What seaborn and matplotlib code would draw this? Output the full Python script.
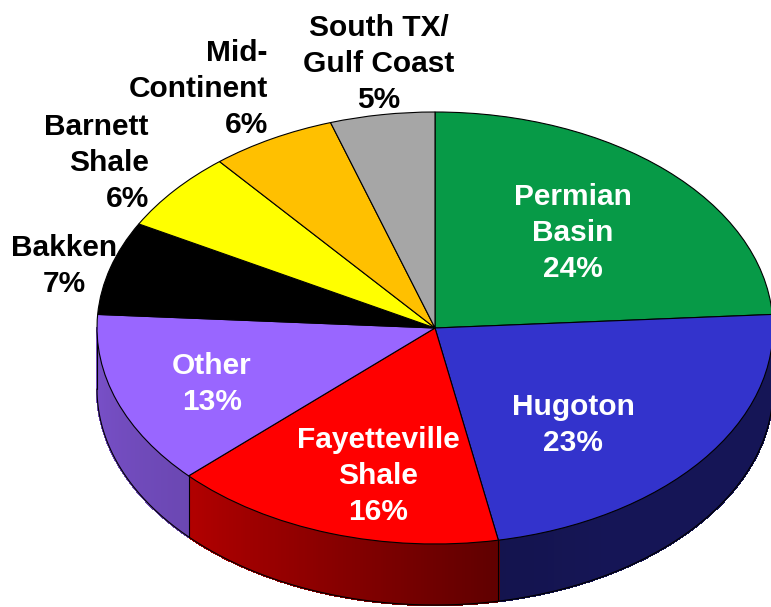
import numpy as np
import matplotlib
matplotlib.use("Agg")
import matplotlib.pyplot as plt
import seaborn as sns
from matplotlib.patches import Polygon

# ---- data ----
categories = ["Permian\nBasin", "Hugoton", "Fayetteville\nShale", "Other",
              "Bakken", "Barnett\nShale", "Mid-\nContinent", "South TX/\nGulf Coast"]
shares = [24, 23, 16, 13, 7, 6, 6, 5]
colors_hex = ["#079a47", "#3333cc", "#ff0000", "#9966ff",
              "#000000", "#ffff00", "#ffc000", "#a6a6a6"]
text_colors = ["white", "white", "white", "white", "black", "black", "black", "black"]

# ---- style ----
sns.set_theme(style="white")
plt.rcParams['font.family'] = ['Liberation Sans', 'DejaVu Sans']

W, H = 771, 607
fig = plt.figure(figsize=(W / 100, H / 100), dpi=100)
ax = fig.add_axes([0, 0, 1, 1])
palette = sns.color_palette(colors_hex)

# ellipse geometry (pixels) -> data coordinates
cx, cy, rx, ry = 435, 328, 338, 216
depth = 61 / ry

fracs = np.array(shares, dtype=float) / sum(shares)
ends = 90 - 360 * np.cumsum(fracs)
starts = ends + 360 * fracs


def shade(theta):
    return np.interp(theta, [-180, -137, -80, -60, 0], [0.80, 0.70, 0.38, 0.42, 0.42])


# side walls
for i in range(len(shares)):
    lo = max(ends[i], -180.0)
    hi = min(starts[i], 0.0)
    if hi <= lo:
        continue
    ts = np.linspace(lo, hi, int((hi - lo) / 0.5) + 2)
    base = np.array(palette[i])
    for a, b in zip(ts[:-1], ts[1:]):
        col = tuple(np.clip(base * shade((a + b) / 2), 0, 1))
        ra, rb = np.radians([a, b])
        poly = [(np.cos(ra), np.sin(ra)), (np.cos(rb), np.sin(rb)),
                (np.cos(rb), np.sin(rb) - depth), (np.cos(ra), np.sin(ra) - depth)]
        ax.add_patch(Polygon(poly, closed=True, facecolor=col, edgecolor=col,
                             linewidth=1.0, antialiased=False, zorder=1))
    rl = np.radians(lo)
    ax.plot([np.cos(rl)] * 2, [np.sin(rl), np.sin(rl) - depth],
            color="black", lw=0.8, zorder=1.5)

arc = np.radians(np.linspace(-180, 0, 400))
ax.plot(np.cos(arc), np.sin(arc) - depth, color="black", lw=0.8, zorder=1.5)

# top face
wedges, _ = ax.pie(shares, colors=palette, startangle=90, counterclock=False,
                   radius=1, wedgeprops=dict(edgecolor="black", linewidth=0.8, zorder=3))
ax.set_aspect("auto")
ax.set_xlim(-cx / rx, (W - cx) / rx)
ax.set_ylim((cy - H) / ry, cy / ry)
ax.axis("off")

# labels: (x pixel, last-line baseline pixel, alignment)
label_pos = [(573, 277, "center"), (573, 451, "center"), (378, 520, "center"),
             (212, 410, "center"), (64, 292, "center"), (149, 207, "right"),
             (268, 133, "right"), (379, 108, "center")]

for cat, s, tc, (px, py, al) in zip(categories, shares, text_colors, label_pos):
    fig.text(px / W, 1 - py / H, f"{cat}\n{s}%", ha=al, multialignment=al,
             va="baseline", color=tc, fontsize=21.5, fontweight="bold",
             linespacing=1.37, zorder=5)

fig.savefig("out.png", dpi=100)
